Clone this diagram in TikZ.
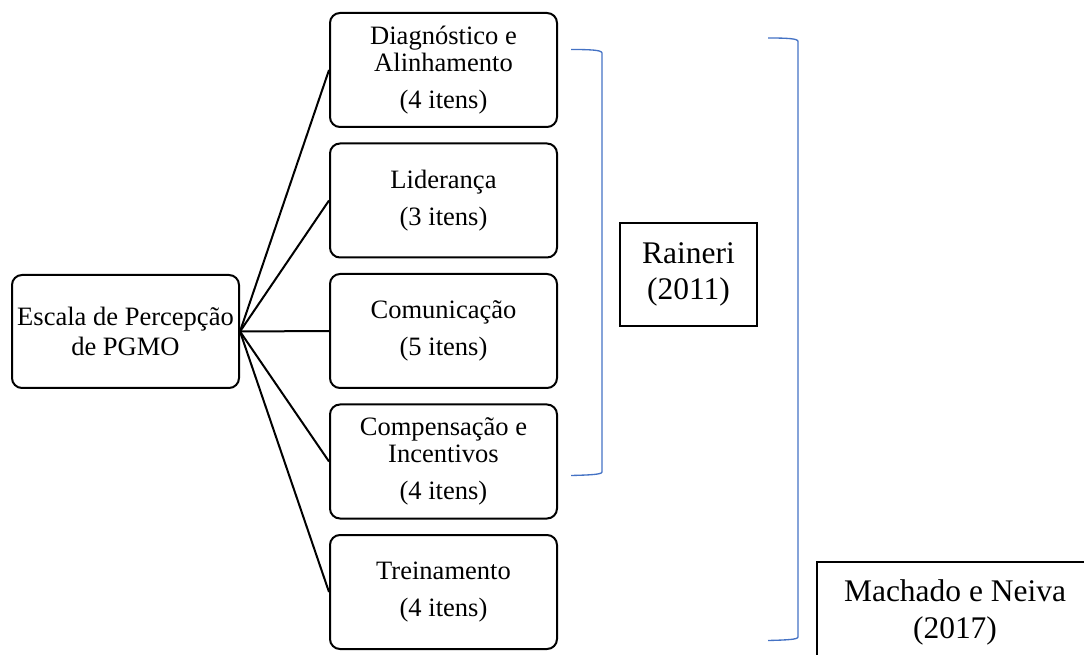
\documentclass[tikz,border=0pt]{standalone}
\usepackage{fontspec}
\setmainfont{Liberation Serif}
\definecolor{brblue}{RGB}{68,114,196}
\begin{document}
\begin{tikzpicture}[x=0.75pt,y=-0.75pt,
  catbox/.style={draw, line width=1.5pt, rounded corners=7.5pt, minimum width=170.25pt, minimum height=85.5pt, inner sep=2pt, align=center, font=\fontsize{19.9}{20}\selectfont},
  refbox/.style={draw, line width=0.8pt, inner sep=2pt, align=center, font=\fontsize{23.6}{27.5}\selectfont},
  link/.style={line width=1.5pt},
  bracket/.style={draw=brblue, line width=1pt}]
\useasboundingbox (0,0) rectangle (1084,655);
\clip (0,0) rectangle (1084,655);
\node[catbox, minimum height=84.75pt, font=\fontsize{19.9}{22.5}\selectfont] (esc) at (125.5,331.5) {Escala de Percepção\\de PGMO};
\node[catbox] (b1) at (443.5,70) {Diagnóstico e\\Alinhamento\\[8pt](4 itens)};
\node[catbox] (b2) at (443.5,200.5) {Liderança\\[8pt](3 itens)};
\node[catbox] (b3) at (443.5,331) {Comunicação\\[8pt](5 itens)};
\node[catbox] (b4) at (443.5,461.5) {Compensação e\\Incentivos\\[8pt](4 itens)};
\node[catbox] (b5) at (443.5,592) {Treinamento\\[8pt](4 itens)};
\foreach \b in {b1,b2,b3,b4,b5} \draw[link] (esc.east) -- (\b.west);
\node[refbox, minimum width=102.75pt, minimum height=77.25pt] (rai) at (688.5,274.5) {Raineri\\(2011)};
\node[refbox, minimum width=207pt, minimum height=75.75pt] (mac) at (955,612.5) {Machado e Neiva\\(2017)};
\draw[bracket] (571,49.5) .. controls (590,49.5) and (602,50) .. (602,53) -- (602,472) .. controls (602,474.5) and (590,475) .. (571,475.5);
\draw[bracket] (768,38) .. controls (787,38) and (798,38.5) .. (798,41.5) -- (798,637) .. controls (798,639.5) and (787,640) .. (768,640.5);
\end{tikzpicture}
\end{document}
